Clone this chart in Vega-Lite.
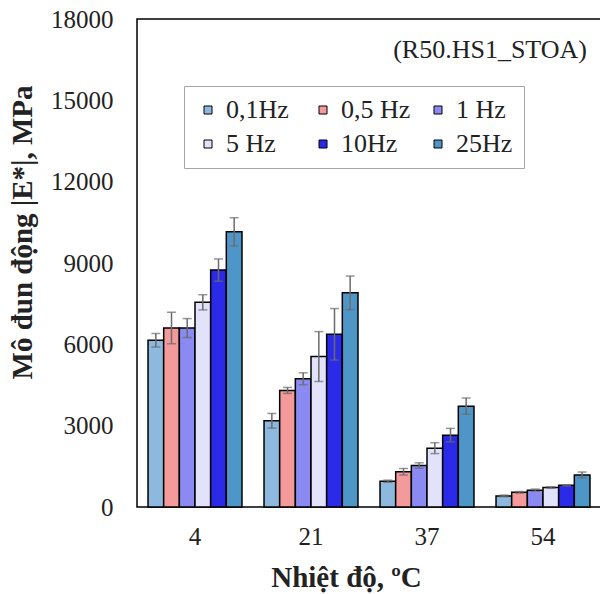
{
  "$schema": "https://vega.github.io/schema/vega-lite/v6.json",
  "width": 464,
  "height": 488,
  "autosize": {"type": "none"},
  "padding": {"left": 137, "top": 19, "right": 0, "bottom": 87},
  "background": "white",
  "config": {
    "view": {"stroke": "#000", "strokeWidth": 1.5},
    "font": "Liberation Serif"
  },
  "data": {"values": [
    {"temp": 4, "freq": "0,1Hz", "value": 6150, "lo": 5900, "hi": 6400},
    {"temp": 4, "freq": "0,5 Hz", "value": 6600, "lo": 6020, "hi": 7180},
    {"temp": 4, "freq": "1 Hz", "value": 6600, "lo": 6250, "hi": 6950},
    {"temp": 4, "freq": "5 Hz", "value": 7550, "lo": 7270, "hi": 7830},
    {"temp": 4, "freq": "10Hz", "value": 8740, "lo": 8330, "hi": 9150},
    {"temp": 4, "freq": "25Hz", "value": 10150, "lo": 9630, "hi": 10670},
    {"temp": 21, "freq": "0,1Hz", "value": 3180, "lo": 2910, "hi": 3450},
    {"temp": 21, "freq": "0,5 Hz", "value": 4300, "lo": 4190, "hi": 4410},
    {"temp": 21, "freq": "1 Hz", "value": 4730, "lo": 4510, "hi": 4950},
    {"temp": 21, "freq": "5 Hz", "value": 5550, "lo": 4630, "hi": 6470},
    {"temp": 21, "freq": "10Hz", "value": 6370, "lo": 5420, "hi": 7320},
    {"temp": 21, "freq": "25Hz", "value": 7900, "lo": 7280, "hi": 8520},
    {"temp": 37, "freq": "0,1Hz", "value": 950, "lo": 910, "hi": 990},
    {"temp": 37, "freq": "0,5 Hz", "value": 1300, "lo": 1180, "hi": 1420},
    {"temp": 37, "freq": "1 Hz", "value": 1530, "lo": 1430, "hi": 1630},
    {"temp": 37, "freq": "5 Hz", "value": 2170, "lo": 1970, "hi": 2370},
    {"temp": 37, "freq": "10Hz", "value": 2650, "lo": 2400, "hi": 2900},
    {"temp": 37, "freq": "25Hz", "value": 3720, "lo": 3420, "hi": 4020},
    {"temp": 54, "freq": "0,1Hz", "value": 410, "lo": 380, "hi": 440},
    {"temp": 54, "freq": "0,5 Hz", "value": 540, "lo": 510, "hi": 570},
    {"temp": 54, "freq": "1 Hz", "value": 620, "lo": 580, "hi": 660},
    {"temp": 54, "freq": "5 Hz", "value": 720, "lo": 690, "hi": 750},
    {"temp": 54, "freq": "10Hz", "value": 800, "lo": 780, "hi": 820},
    {"temp": 54, "freq": "25Hz", "value": 1180, "lo": 1070, "hi": 1290}
  ]},
  "encoding": {
    "x": {
      "field": "temp", "type": "ordinal",
      "scale": {"paddingInner": 0.19, "paddingOuter": 0.095},
      "axis": {
        "title": "Nhiệt độ, ºC", "labelAngle": 0, "domain": false, "grid": false, "zindex": 1,
        "ticks": false,
        "labelFont": "Liberation Serif", "labelFontSize": 25, "labelColor": "#222", "labelPadding": 17,
        "titleFont": "Liberation Serif", "titleFontSize": 29, "titleFontWeight": "bold", "titleColor": "#222",
        "titleX": 209, "titleY": 70, "titleAlign": "center", "titleBaseline": "middle"
      }
    }
  },
  "layer": [
    {
      "mark": {"type": "bar", "stroke": "#000", "strokeWidth": 1.5},
      "encoding": {
        "xOffset": {"field": "freq", "type": "nominal", "sort": ["0,1Hz", "0,5 Hz", "1 Hz", "5 Hz", "10Hz", "25Hz"], "scale": {"paddingInner": 0, "paddingOuter": 0}},
        "y": {
          "field": "value", "type": "quantitative",
          "scale": {"domain": [0, 18000], "nice": false},
          "axis": {
            "title": "Mô đun động |E*|, MPa", "values": [0, 3000, 6000, 9000, 12000, 15000, 18000], "format": "d",
            "grid": false, "domain": false, "tickSize": 0, "zindex": 1,
            "labelFont": "Liberation Serif", "labelFontSize": 25, "labelColor": "#222", "labelPadding": 24,
            "titleFont": "Liberation Serif", "titleFontSize": 29, "titleFontWeight": "bold", "titleColor": "#222",
            "titleX": -115, "titleY": 213, "titleAngle": -90, "titleAlign": "center", "titleBaseline": "middle"
          }
        },
        "color": {
          "field": "freq", "type": "nominal",
          "scale": {"domain": ["0,1Hz", "0,5 Hz", "1 Hz", "5 Hz", "10Hz", "25Hz"], "range": ["#8db9df", "#f49a9a", "#8a8af2", "#e2e2fb", "#2a2ae8", "#4f96c8"]},
          "legend": {
            "orient": "none", "legendX": 47, "legendY": 67, "direction": "horizontal", "columns": 3, "title": null,
            "symbolType": "square", "symbolSize": 64, "symbolStrokeColor": "#000", "symbolStrokeWidth": 1,
            "labelFont": "Liberation Serif", "labelFontSize": 26, "labelColor": "#222", "labelOffset": 5, "labelLimit": 200,
            "columnPadding": 14, "rowPadding": 8, "padding": 11, "strokeColor": "#a6a6a6", "fillColor": "white", "gridAlign": "all"
          }
        }
      }
    },
    {
      "mark": {"type": "rule", "color": "#6b6b6b", "strokeWidth": 1.5},
      "encoding": {
        "xOffset": {"field": "freq", "type": "nominal", "sort": ["0,1Hz", "0,5 Hz", "1 Hz", "5 Hz", "10Hz", "25Hz"]},
        "y": {"field": "lo", "type": "quantitative"},
        "y2": {"field": "hi"}
      }
    },
    {
      "mark": {"type": "tick", "color": "#6b6b6b", "thickness": 1.5, "size": 9},
      "encoding": {
        "xOffset": {"field": "freq", "type": "nominal", "sort": ["0,1Hz", "0,5 Hz", "1 Hz", "5 Hz", "10Hz", "25Hz"]},
        "y": {"field": "lo", "type": "quantitative"}
      }
    },
    {
      "mark": {"type": "tick", "color": "#6b6b6b", "thickness": 1.5, "size": 9},
      "encoding": {
        "xOffset": {"field": "freq", "type": "nominal", "sort": ["0,1Hz", "0,5 Hz", "1 Hz", "5 Hz", "10Hz", "25Hz"]},
        "y": {"field": "hi", "type": "quantitative"}
      }
    },
    {
      "data": {"values": [{"label": "(R50.HS1_STOA)"}]},
      "mark": {"type": "text", "align": "right", "baseline": "middle", "fontSize": 26, "dx": 44, "font": "Liberation Serif", "color": "#222"},
      "encoding": {
        "x": {"datum": 54},
        "y": {"datum": 16850},
        "text": {"field": "label"}
      }
    }
  ]
}
